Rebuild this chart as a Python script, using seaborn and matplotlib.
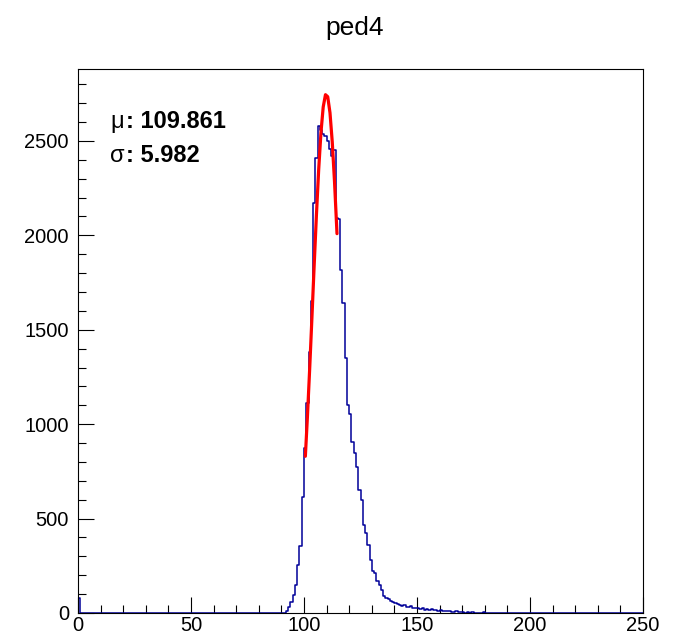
import numpy as np
import pandas as pd
import matplotlib.pyplot as plt
import seaborn as sns
from matplotlib.ticker import MultipleLocator

# histogram contents (left bin edge, bin width 1)
bin_left = [0] + list(range(92, 190))
counts = [80,
          12, 30, 60, 95, 148, 254, 355, 616, 872, 1110,
          1380, 1650, 2170, 2408, 2578, 2560, 2535, 2525, 2500, 2455,
          2420, 2452, 2090, 2085, 1816, 1643, 1349, 1102, 1052, 907,
          849, 772, 651, 598, 466, 423, 360, 280, 225, 213,
          168, 148, 122, 90, 78, 76, 64, 60, 55, 48,
          45, 38, 42, 33, 30, 35, 27, 24, 29, 20,
          25, 18, 22, 15, 19, 14, 16, 11, 14, 9,
          12, 8, 10, 7, 5, 8, 4, 6, 3, 2,
          4, 2, 3, 2, 1, 2, 1, 3, 0, 1,
          0, 2, 1, 0, 1, 2, 1, 1]

# gaussian fit curve
fit_x = [100.6, 101.5, 102.5, 103.5, 104.5, 105.5, 106.5, 107.5,
         108.5, 109.5, 110.5, 111.5, 112.5, 113.5, 114.6]
fit_y = [830, 1036, 1290, 1562, 1841, 2108, 2349, 2544,
         2680, 2745, 2734, 2649, 2495, 2285, 2009]

fit_mu = "109.861"
fit_sigma = "5.982"

hist_df = pd.DataFrame({"adc": np.array(bin_left) + 0.5, "n": counts})

sns.set_style("white")
plt.rcParams['font.family'] = ['Liberation Sans', 'DejaVu Sans']
plt.rcParams['text.color'] = 'black'
plt.rcParams['xtick.color'] = 'black'
plt.rcParams['ytick.color'] = 'black'

W, H = 677, 639
fig = plt.figure(figsize=(W / 100, H / 100), dpi=100)
ax = fig.add_axes([78 / W, 26 / H, 565 / W, 544 / H])

sns.histplot(data=hist_df, x="adc", weights="n", binwidth=1, binrange=(0, 250),
             element="step", fill=False, color="#000099", linewidth=1.1, ax=ax)
sns.lineplot(x=fit_x, y=fit_y, color="#ff0000", linewidth=2.3, ax=ax)

ax.set_xlim(0, 250)
ax.set_ylim(0, 2881)
ax.xaxis.set_major_locator(MultipleLocator(50))
ax.xaxis.set_minor_locator(MultipleLocator(10))
ax.yaxis.set_major_locator(MultipleLocator(500))
ax.yaxis.set_minor_locator(MultipleLocator(100))
ax.tick_params(which='major', direction='in', length=11.5, width=0.8,
               labelsize=14.5, bottom=True, left=True, top=False, right=False)
ax.tick_params(which='minor', direction='in', length=6, width=0.8,
               bottom=True, left=True, top=False, right=False)
ax.tick_params(axis='y', pad=6.5)
ax.tick_params(axis='x', pad=2.5)
ax.set_xlabel('')
ax.set_ylabel('')
for sp in ax.spines.values():
    sp.set_visible(True)
    sp.set_color('black')
    sp.set_linewidth(0.8)

fig.text(355 / W, 1 - 28 / H, "ped4", ha='center', va='center', fontsize=19)

fig.text(110 / W, 1 - 128 / H, "\u03bc", fontsize=17, va='baseline')
fig.text(126 / W, 1 - 128 / H, ": " + fit_mu, fontsize=17,
         fontweight='bold', va='baseline')
fig.text(110 / W, 1 - 162 / H, "\u03c3", fontsize=17, va='baseline')
fig.text(126 / W, 1 - 162 / H, ": " + fit_sigma, fontsize=17,
         fontweight='bold', va='baseline')

fig.savefig("out.png", dpi=100)
